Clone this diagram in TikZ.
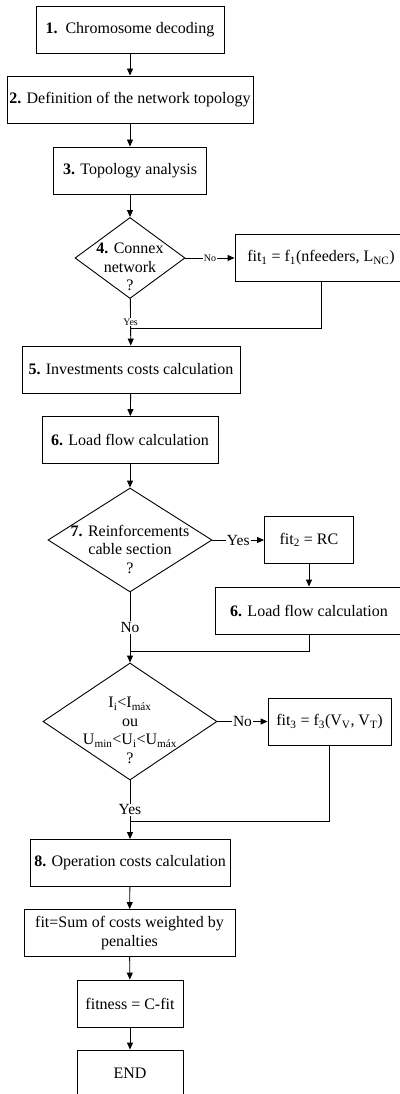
\documentclass[tikz,border=0pt]{standalone}
\usepackage{fontspec}
\setmainfont{Liberation Serif}
\usetikzlibrary{shapes.geometric,arrows.meta}
\begin{document}
\begin{tikzpicture}
[x=1pt,y=-1pt,font=\fontsize{16}{18.5}\selectfont,
  boxdecorate/.style={shape=rectangle,draw,line width=0.9pt,minimum height=47pt,align=center,inner sep=2pt},%
  diamonddecorate/.style={shape=diamond,draw,line width=0.9pt,inner sep=0pt},%
  arrowdecorate/.style={-{Triangle[length=7pt,width=6pt]},line width=0.9pt},%
  linedecorate/.style={-,line width=0.9pt},%
  smalllabel/.style={fill=white,inner sep=1pt,font=\fontsize{10}{11}\selectfont},%
  biglabel/.style={fill=white,inner sep=1pt,font=\fontsize{15.5}{17}\selectfont}]
\useasboundingbox (0,0) rectangle (399,1094);
%% boxes
\foreach \nodename/\x/\y/\w/\txt in {
  decode/130/29.5/188/{\textbf{1.}\ \ Chromosome decoding},
  topo/130/99.5/246/{\textbf{2.} Definition of the network topology},
  analysis/130/170.5/153/{\textbf{3.} Topology analysis},
  fit1/321/258/172/{fit\textsubscript{1} = f\textsubscript{1}(nfeeders, L\textsubscript{NC})},
  invest/131/369.5/218/{\textbf{5.} Investments costs calculation},
  load/130/440/176/{\textbf{6.} Load flow calculation},
  fit2/309/540/89/{fit\textsubscript{2} = RC},
  load2/309/610.5/188/{\textbf{6.} Load flow calculation},
  fit3/329.5/721.5/123/{fit\textsubscript{3} = f\textsubscript{3}(V\textsubscript{V}, V\textsubscript{T})},
  oper/130/863/200/{\textbf{8.} Operation costs calculation},
  sum/129.5/933/211/{fit=Sum of costs weighted by\\penalties},
  fitness/130/1003.5/106/{fitness = C-fit},
  stop/130/1073.5/106/{END}} {
  \node (\nodename) at (\x,\y) [boxdecorate,minimum width=\w*1pt] {\txt};
}
%% decisions
\foreach \nodename/\x/\y/\w/\h/\txt in {
  connex/130/258/110/81/{\textbf{4.} Connex\\network\\?},
  reinf/130/540/164/104/{\textbf{7.} Reinforcements\\cable section\\?},
  limits/130/721.5/174/117/{I\textsubscript{i}<I\textsubscript{máx}\\ou\\U\textsubscript{min}<U\textsubscript{i}<U\textsubscript{máx}\\?}} {
  \node (\nodename) at (\x,\y) [diamonddecorate,minimum width=\w*1pt,minimum height=\h*1pt] {};
  \node (\nodename-text) at (\x,\y+9) [align=center] {\txt};
}
%% merge points
\coordinate (m1) at (130,328);
\coordinate (m2) at (130,651);
\coordinate (m3) at (130,821);
%% straight arrows
\path
\foreach \startnode/\endnode in {decode/topo, topo/analysis, analysis/connex, invest/load,
  load/reinf, fit2/load2, oper/sum, sum/fitness, fitness/stop} {
  (\startnode) edge[arrowdecorate] (\endnode)
};
%% branches
\draw[arrowdecorate] (connex) -- node[smalllabel] {No} (fit1);
\draw[arrowdecorate] (connex) -- node[smalllabel] {Yes} (invest);
\draw[linedecorate] (fit1.south) |- (m1);
\draw[arrowdecorate] (reinf) -- node[biglabel] {Yes} (fit2);
\draw[arrowdecorate] (reinf) -- node[biglabel] {No} (limits);
\draw[linedecorate] (load2.south) |- (m2);
\draw[arrowdecorate] (limits) -- node[biglabel] {No} (fit3);
\draw[arrowdecorate] (limits) -- node[biglabel] {Yes} (oper);
\draw[linedecorate] (fit3.south) |- (m3);
\end{tikzpicture}
\end{document}
